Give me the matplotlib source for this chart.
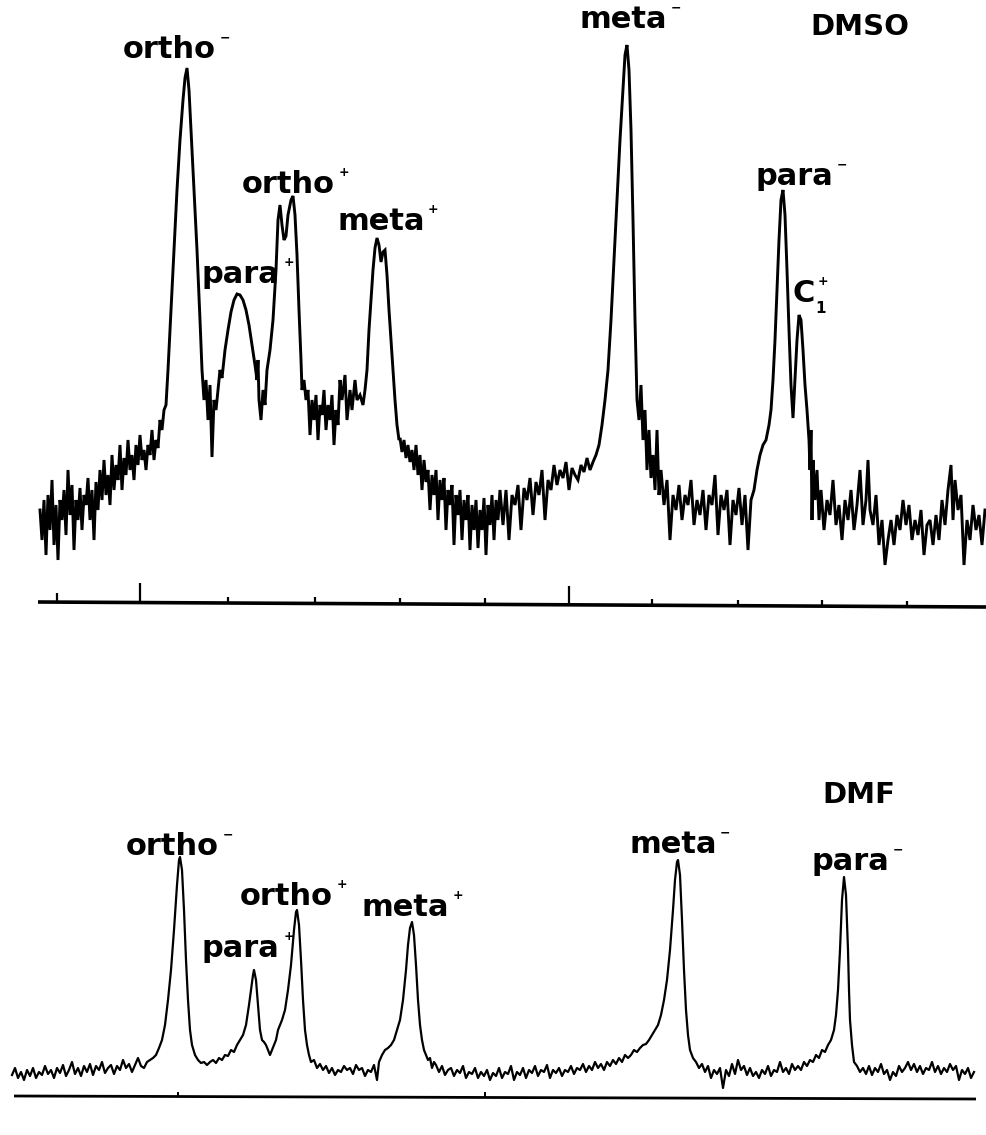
import matplotlib
matplotlib.use("Agg")
import matplotlib.pyplot as plt
import numpy as np

# ---------------- DATA ----------------
# DMSO spectrum: channel position and intensity (arbitrary units above the axis)
dmso_pos = [40, 42, 44, 46, 48, 50, 52, 54, 56, 58, 60, 62, 64, 66, 68, 70, 72, 74, 76, 78,
            80, 82, 84, 86, 88, 90, 92, 94, 96, 98, 100, 102, 104, 106, 108, 110, 112, 114, 116, 118,
            120, 122, 124, 126, 128, 130, 132, 134, 136, 138, 140, 142, 144, 146, 148, 150, 152, 154, 156, 158,
            160, 162, 164,
            166, 168, 171, 174, 177, 180, 183, 185, 187, 189, 191, 194, 197, 200, 202, 204, 206, 208, 210, 212,
            214, 216, 218,
            220, 222, 225, 228, 231, 234, 237, 240, 243, 246, 249, 252, 255, 257, 258, 259, 261, 263, 265, 267,
            270, 273, 276, 278, 280, 282, 284, 286, 288, 291, 293, 295, 297, 299, 301, 302,
            304, 306, 308, 310, 312, 314, 316, 318, 320, 322, 324, 326, 328, 330, 332, 334, 336, 338, 340, 342,
            345, 347, 350, 352, 355, 357, 360, 363, 365,
            367, 369, 371, 373, 375, 377, 379, 381, 383, 385, 387, 389, 391, 393, 395, 397, 399,
            400, 402, 404, 406, 408, 410, 412, 414, 416, 418, 420, 422, 424, 426, 428, 430, 432, 434, 436, 438,
            440, 442, 444, 446, 448, 450, 452, 454, 456, 458, 460, 462, 464, 466, 468, 470, 472, 474, 476, 478,
            480, 482, 484, 486, 488, 490, 492, 494, 496, 498,
            500, 503, 506, 509, 512, 515, 518, 521, 524, 527, 530, 533, 536, 539, 542, 545, 548, 551, 554, 557,
            560, 563, 566, 569, 572, 575, 578, 581, 584, 587, 590, 593, 596, 599,
            602, 605, 608, 611, 614, 617, 620, 623, 625, 627, 629, 631, 633, 635, 637, 639, 641, 643, 645, 647,
            649, 651, 653, 655, 657, 659,
            661, 664, 667, 670, 673, 676, 679, 682, 685, 688, 691, 694, 697, 700, 703, 706, 709, 712, 715, 718,
            721, 724, 727, 730, 733, 736, 739, 742, 745, 748, 751, 754,
            757, 760, 763, 766, 769, 771, 773, 775, 777, 779, 781, 783, 785, 787, 789, 791, 793, 795, 797, 799,
            801, 803, 805, 807, 809, 810, 811, 812, 813,
            815, 817, 819, 821, 824, 827, 830, 833, 836, 839, 842, 845, 848, 851, 854, 857, 860, 863, 866, 868,
            870, 873, 876, 879, 882, 885, 888, 891, 894, 897, 900, 903, 906, 909, 912, 915, 918, 921, 924, 927,
            930, 933, 936, 939, 942, 945, 948, 951, 953, 955, 958, 961, 964, 967, 970, 973, 976, 979, 982, 985]
dmso_int = [95, 65, 105, 50, 110, 75, 125, 60, 100, 45, 105, 85, 115, 70, 135, 90, 120, 55, 105, 85,
            117, 75, 110, 100, 127, 85, 115, 65, 123, 95, 135, 105, 145, 110, 130, 100, 150, 115, 140, 125,
            160, 115, 147, 130, 165, 135, 150, 125, 160, 140, 170, 145, 155, 135, 160, 150, 175, 145, 165, 157,
            185, 175, 195,
            200, 235, 295, 355, 415, 465, 505, 527, 537, 515, 475, 415, 355, 285, 235, 205, 225, 185, 220, 148,
            205, 195, 215,
            235, 227, 255, 275, 293, 305, 311, 310, 305, 295, 280, 260, 240, 225, 245, 205, 185, 215, 200, 235,
            255, 285, 335, 385, 400, 380, 365, 369, 390, 405, 409, 390, 350, 295, 245, 215,
            225, 205, 215, 170, 205, 185, 210, 165, 200, 190, 215, 175, 200, 185, 210, 160, 195, 180, 225, 205,
            230, 185, 215, 195, 225, 205, 210, 200, 215,
            235, 275, 305, 335, 357, 367, 360, 343, 353, 355, 330, 295, 265, 235, 205, 180, 165,
            167, 153, 165, 147, 160, 143, 155, 135, 160, 130, 150, 115, 145, 123, 135, 95, 130, 110, 135, 85,
            125, 105, 127, 75, 115, 100, 120, 60, 110, 90, 115, 65, 105, 85, 110, 55, 100, 75, 105, 57,
            95, 75, 107, 50, 100, 80, 110, 65, 105, 85,
            115, 80, 115, 65, 110, 100, 120, 75, 117, 105, 127, 90, 123, 110, 135, 85, 125, 115, 140, 120,
            135, 127, 143, 115, 137, 130, 125, 140, 133, 147, 135, 143, 150, 160,
            180, 205, 235, 285, 345, 405, 465, 515, 550, 560, 535, 475, 385, 285, 205, 185, 220, 165, 195, 135,
            175, 127, 150, 115, 175, 110,
            135, 100, 125, 65, 110, 95, 120, 85, 110, 100, 125, 80, 105, 90, 115, 75, 110, 100, 130, 70,
            110, 95, 115, 60, 105, 90, 117, 80, 110, 55, 105, 115,
            135, 150, 160, 165, 180, 195, 225, 265, 315, 365, 405, 415, 390, 335, 275, 220, 187, 225, 265, 290,
            285, 255, 220, 195, 165, 135, 175, 85, 145,
            105, 135, 85, 115, 75, 105, 90, 125, 80, 100, 65, 105, 85, 115, 75, 100, 135, 80, 105, 145,
            95, 80, 110, 60, 85, 40, 65, 85, 60, 90, 75, 105, 80, 100, 65, 85, 70, 95, 50, 80,
            85, 60, 90, 65, 105, 80, 115, 140, 85, 125, 95, 110, 40, 85, 65, 100, 75, 90, 60, 95]

# DMF spectrum: channel position and intensity
dmf_pos = [12, 15, 18, 21, 24, 27, 30, 33, 36, 39, 42, 45, 48, 51, 54, 57, 60, 63, 66, 69,
           72, 75, 78, 81, 84, 87, 90, 93, 96, 99, 102, 105, 108, 111, 114, 117, 120, 123, 126, 129,
           132, 135, 138, 141, 144, 147, 150, 153, 156, 159, 162, 165, 168, 171, 174, 177, 179, 180, 182, 184,
           186, 188, 190, 192, 195, 198, 201, 204, 207, 210, 213, 216, 219, 222, 225, 228, 231, 234, 237, 240,
           243, 246, 249, 251, 253, 254, 256, 258, 260, 262, 264, 266, 268, 270, 272, 274, 276, 278, 280, 282,
           285, 288, 291, 294, 296, 297, 299, 301, 303, 305, 307, 309, 311, 314, 317, 320, 323, 326, 329, 332,
           335, 338, 341, 344, 347, 350, 353, 356, 359, 362, 365, 368, 371, 374, 377, 379, 382, 385, 388, 391,
           394, 397, 400, 403, 406, 408, 410, 412, 414, 416, 418, 420, 422, 424, 426, 428, 430, 432, 434, 436,
           439, 442, 445, 448, 451, 454, 457, 460, 463, 466, 469, 472, 475, 478, 481, 484, 487, 490, 493, 496,
           499, 502, 505, 508, 511, 514, 517, 520, 523, 526, 529, 532, 535, 538, 541, 544, 547, 550, 553, 556,
           559, 562, 565, 568, 571, 574, 577, 580, 583, 586, 589, 592, 595, 598, 601, 604, 607, 610, 613, 616,
           619, 622, 625, 628, 631, 634, 637, 640, 643, 646, 649, 652, 655, 658, 661, 664, 667, 670, 673, 675,
           677, 678, 680, 682, 684, 686, 688, 690, 693, 696, 699, 702, 705, 708, 711, 714, 717, 720, 723, 726,
           729, 732, 735, 738, 741, 744, 747, 750, 753, 756, 759, 762, 765, 768, 771, 774, 777, 780, 783, 786,
           789, 792, 795, 798, 801, 804, 807, 810, 813, 816, 819, 822, 825, 828, 831, 834, 836, 838, 840, 842,
           844, 846, 848, 849, 850, 852, 854, 857, 860, 863, 866, 869, 872, 875, 878, 881, 884, 887, 890, 893,
           896, 899, 902, 905, 908, 911, 914, 917, 920, 923, 926, 929, 932, 935, 938, 941, 944, 947, 950, 953,
           956, 959, 962, 965, 968, 971, 974]
dmf_int = [25, 32, 22, 28, 20, 30, 24, 32, 22, 28, 25, 34, 26, 30, 22, 32, 27, 35, 24, 30,
           38, 26, 32, 24, 34, 28, 36, 25, 34, 30, 38, 27, 32, 35, 26, 34, 30, 40, 32, 36,
           28, 35, 42, 34, 32, 38, 40, 42, 45, 52, 60, 75, 100, 130, 170, 215, 240, 243, 230, 190,
           140, 100, 70, 55, 45, 40, 37, 38, 35, 38, 40, 37, 42, 40, 45, 44, 50, 48, 55, 60,
           65, 75, 95, 110, 125, 130, 120, 95, 70, 60, 58, 55, 50, 45, 50, 55, 60, 70, 75, 80,
           90, 110, 135, 170, 188, 190, 175, 140, 100, 70, 55, 45, 38, 40, 32, 36, 30, 34, 27, 32,
           25, 30, 28, 34, 30, 32, 26, 35, 30, 32, 24, 30, 28, 35, 20, 38, 45, 50, 52, 55,
           60, 70, 80, 100, 130, 155, 172, 178, 165, 135, 100, 75, 60, 50, 45, 40, 42, 32, 38, 35,
           28, 34, 25, 30, 32, 24, 30, 27, 34, 22, 28, 26, 32, 22, 28, 24, 30, 20, 27, 24,
           32, 22, 28, 26, 34, 20, 28, 25, 32, 22, 30, 27, 34, 24, 30, 28, 35, 22, 30, 27,
           32, 24, 30, 28, 34, 26, 32, 30, 36, 28, 34, 30, 38, 32, 36, 30, 38, 34, 40, 36,
           42, 38, 45, 42, 45, 50, 48, 52, 55, 56, 60, 65, 70, 75, 85, 100, 120, 150, 190, 220,
           238, 240, 225, 180, 130, 90, 65, 50, 42, 38, 32, 36, 28, 34, 22, 30, 26, 32, 12, 30,
           24, 36, 26, 40, 30, 34, 25, 32, 24, 28, 22, 30, 26, 34, 24, 30, 28, 38, 28, 32,
           26, 36, 30, 34, 30, 38, 34, 40, 38, 45, 42, 50, 48, 55, 60, 70, 85, 110, 150, 200,
           223, 205, 150, 110, 80, 55, 38, 34, 28, 32, 26, 34, 25, 32, 28, 36, 26, 30, 20, 28,
           24, 34, 28, 32, 38, 30, 36, 28, 34, 26, 32, 30, 38, 28, 34, 26, 32, 28, 36, 30,
           34, 20, 30, 26, 32, 22, 28]

# Axis (scale) lines and tick marks
dmso_axis_pos = [38, 986]
dmso_axis_level = [3, -2]
dmso_tick_pos = [57, 140, 228, 315, 400, 485, 569, 652, 738, 822, 907]
dmso_tick_len = [9, 20, 6, 6, 6, 6, 19, 6, 6, 6, 6]

dmf_axis_pos = [14, 976]
dmf_axis_level = [4, 1]
dmf_tick_pos = [178, 485]
dmf_tick_len = [5, 5]

# Peak labels: (text, superscript sign, x, intensity level of the text baseline)
dmso_labels = [("ortho", "\u2212", 123, 547), ("ortho", "+", 242, 412), ("para", "+", 202, 322),
               ("meta", "+", 337, 375), ("meta", "\u2212", 580, 577), ("para", "\u2212", 755, 420)]
dmf_labels = [("ortho", "\u2212", 126, 245), ("para", "+", 202, 143), ("ortho", "+", 240, 195),
              ("meta", "+", 362, 184), ("meta", "\u2212", 629, 247), ("para", "\u2212", 811, 230)]

# ---------------- FIGURE ----------------
W, H = 986, 1135
fig = plt.figure(figsize=(W / 100, H / 100), dpi=100)
fig.patch.set_facecolor("white")

top_frac = 620 / H
ax1 = fig.add_axes([0, 1 - top_frac, 1, top_frac])
ax2 = fig.add_axes([0, 0, 1, 1 - top_frac])
ax1.set_xlim(0, W)
ax1.set_ylim(-15, 605)
ax2.set_xlim(0, W)
ax2.set_ylim(-35, 480)
for ax in (ax1, ax2):
    ax.axis("off")

FONT = "DejaVu Sans"
LBL = 22
SUP = 9


def draw_labels(ax, labels):
    for txt, sup, x, y in labels:
        t = ax.text(x, y, txt, fontsize=LBL, fontweight="bold", family=FONT,
                    ha="left", va="baseline", color="black")
        ax.annotate(sup, xy=(1.0, 1.0), xycoords=t, xytext=(2.5, -2),
                    textcoords="offset points", fontsize=SUP, fontweight="bold",
                    family=FONT, ha="left", va="center", color="black")


# DMSO trace
ax1.plot(dmso_pos, dmso_int, color="black", lw=2.1, solid_joinstyle="miter")
ax1.plot(dmso_axis_pos, dmso_axis_level, color="black", lw=2.6, solid_capstyle="butt")
base = np.interp(dmso_tick_pos, dmso_axis_pos, dmso_axis_level)
ax1.vlines(dmso_tick_pos, base, base + np.array(dmso_tick_len), color="black", lw=1.6)
draw_labels(ax1, dmso_labels)
ax1.text(810, 570, "DMSO", fontsize=21, fontweight="bold", family=FONT,
         ha="left", va="baseline")
c = ax1.text(793, 303, "C", fontsize=LBL, fontweight="bold", family=FONT,
             ha="left", va="baseline")
ax1.annotate("1", xy=(1.0, 0.0), xycoords=c, xytext=(0, 5), textcoords="offset points",
             fontsize=11, fontweight="bold", family=FONT, ha="left", va="top")
ax1.annotate("+", xy=(1.0, 1.0), xycoords=c, xytext=(1.5, -2), textcoords="offset points",
             fontsize=SUP, fontweight="bold", family=FONT, ha="left", va="center")

# DMF trace
ax2.plot(dmf_pos, dmf_int, color="black", lw=1.6)
ax2.plot(dmf_axis_pos, dmf_axis_level, color="black", lw=2.0, solid_capstyle="butt")
base2 = np.interp(dmf_tick_pos, dmf_axis_pos, dmf_axis_level)
ax2.vlines(dmf_tick_pos, base2, base2 + np.array(dmf_tick_len), color="black", lw=1.4)
draw_labels(ax2, dmf_labels)
ax2.text(822, 297, "DMF", fontsize=21, fontweight="bold", family=FONT,
         ha="left", va="baseline")

fig.savefig("out.png", dpi=100, facecolor="white")
